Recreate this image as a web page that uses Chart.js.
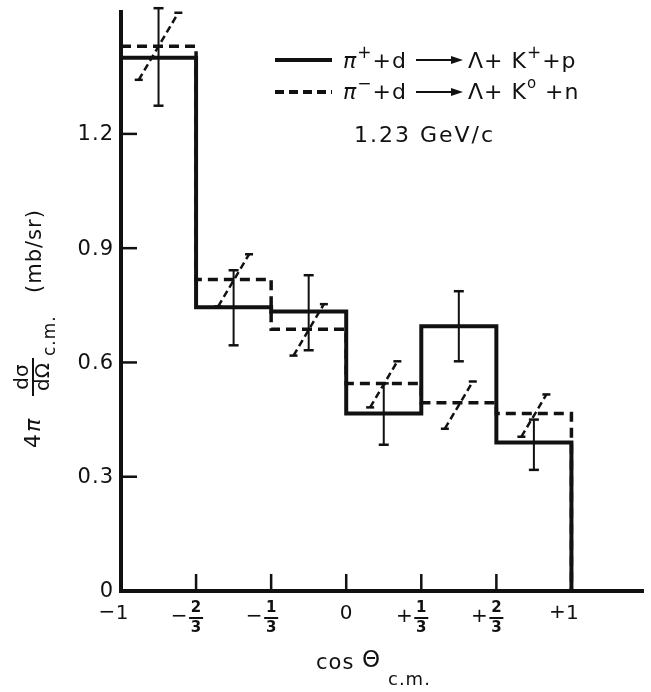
<!DOCTYPE html>
<html>
<head>
<meta charset="utf-8">
<script src="https://cdn.jsdelivr.net/npm/chart.js@4.4.0/dist/chart.umd.min.js"></script>
<style>
  body { margin: 0; background: #fff; }
  canvas { display: block; }
</style>
</head>
<body>
<canvas id="chart" width="651" height="692"></canvas>
<script>
// cos(theta) c.m. bins
const binEdges = [-1, -2/3, -1/3, 0, 1/3, 2/3, 1];
const binCenters = [-5/6, -1/2, -1/6, 1/6, 1/2, 5/6];

// pi+ + d -> Lambda + K+ + p  (solid)
const plusValues = [1.40, 0.745, 0.734, 0.466, 0.695, 0.39];
const plusLow = [1.274, 0.645, 0.632, 0.384, 0.603, 0.318];
const plusHigh = [1.53, 0.842, 0.829, 0.545, 0.787, 0.45];

// pi- + d -> Lambda + K0 + n  (dashed)
const minusValues = [1.43, 0.818, 0.687, 0.545, 0.494, 0.466];
const minusLow = [1.342, 0.747, 0.618, 0.482, 0.426, 0.405];
const minusHigh = [1.518, 0.884, 0.753, 0.603, 0.55, 0.516];

const yTicks = [0, 0.3, 0.6, 0.9, 1.2];
const yTickLabels = ['0', '0.3', '0.6', '0.9', '1.2'];
const xTicks = [-1, -2/3, -1/3, 0, 1/3, 2/3, 1];
// [sign, numerator, denominator]
const xTickLabels = [['-', '1'], ['-', '2', '3'], ['-', '1', '3'], ['', '0'], ['+', '1', '3'], ['+', '2', '3'], ['+', '1']];

const INK = '#111';

function stepPoints(values) {
  const pts = values.map((v, i) => ({ x: binEdges[i], y: v }));
  pts.push({ x: binEdges[binEdges.length - 1], y: values[values.length - 1] });
  pts.push({ x: binEdges[binEdges.length - 1], y: 0 });
  return pts;
}

function verticalBars(low, high) {
  const pts = [];
  binCenters.forEach((c, i) => {
    pts.push({ x: c, y: low[i] }, { x: c, y: high[i] }, { x: c, y: null });
  });
  return pts;
}

// the dashed series has its error bars drawn slanted
function slantBars(low, high) {
  const pts = [];
  binCenters.forEach((c, i) => {
    const d = (high[i] - low[i]) / 2;
    pts.push({ x: c - d, y: low[i] }, { x: c + d, y: high[i] }, { x: c, y: null });
  });
  return pts;
}

function drawRich(ctx, x, y, parts, size) {
  parts.forEach(p => {
    const [text, dy, scale, style] = p;
    ctx.font = (style || '') + ' ' + Math.round(size * scale) + 'px "DejaVu Sans"';
    ctx.fillText(text, x, y + dy);
    x += ctx.measureText(text).width;
  });
  return x;
}

function drawArrow(ctx, x1, x2, y) {
  ctx.beginPath();
  ctx.lineWidth = 2;
  ctx.moveTo(x1, y);
  ctx.lineTo(x2 - 8, y);
  ctx.stroke();
  ctx.beginPath();
  ctx.moveTo(x2, y);
  ctx.lineTo(x2 - 12, y - 4);
  ctx.lineTo(x2 - 12, y + 4);
  ctx.closePath();
  ctx.fill();
}

const decorations = {
  id: 'decorations',
  afterDraw(chart) {
    const ctx = chart.ctx;
    const xs = chart.scales.x, ys = chart.scales.y;
    const left = chart.chartArea.left, bottom = chart.chartArea.bottom;
    ctx.save();
    ctx.strokeStyle = INK;
    ctx.fillStyle = INK;
    ctx.lineCap = 'butt';

    // inward tick marks
    ctx.lineWidth = 2.5;
    yTicks.forEach(v => {
      if (v === 0) return;
      const py = ys.getPixelForValue(v);
      ctx.beginPath(); ctx.moveTo(left, py); ctx.lineTo(left + 16, py); ctx.stroke();
    });
    xTicks.forEach(v => {
      if (v === -1 || v === 1) return;
      const px = xs.getPixelForValue(v);
      ctx.beginPath(); ctx.moveTo(px, bottom); ctx.lineTo(px, bottom - 17); ctx.stroke();
    });

    // y tick labels
    ctx.letterSpacing = '1px';
    ctx.font = '21px "DejaVu Sans"';
    ctx.textAlign = 'right';
    ctx.textBaseline = 'middle';
    yTicks.forEach((v, i) => {
      ctx.fillText(yTickLabels[i], 114, ys.getPixelForValue(v) + 1);
    });

    // x tick labels (fractions stacked)
    ctx.letterSpacing = '0px';
    ctx.textAlign = 'center';
    xTicks.forEach((v, i) => {
      const px = xs.getPixelForValue(v);
      const [sign, num, den] = xTickLabels[i];
      if (den) {
        ctx.font = 'bold 15px "DejaVu Sans"';
        ctx.fillText(num, px, 608);
        ctx.fillText(den, px, 628);
        ctx.lineWidth = 2;
        ctx.beginPath(); ctx.moveTo(px - 7, 618); ctx.lineTo(px + 7, 618); ctx.stroke();
        ctx.font = '20px "DejaVu Sans"';
        ctx.fillText(sign === '-' ? '\u2212' : '+', px - 17, 617);
      } else {
        ctx.font = '20px "DejaVu Sans"';
        ctx.fillText(num, px + (sign ? 1 : 0), 614);
        if (sign) ctx.fillText(sign === '-' ? '\u2212' : '+', px - 14, 613);
      }
    });

    // x axis title
    ctx.textAlign = 'left';
    ctx.letterSpacing = '1px';
    ctx.font = '21px "DejaVu Sans"';
    ctx.fillText('cos', 316, 664);
    ctx.font = '23px "DejaVu Sans"';
    ctx.fillText('\u0398', 362, 661);
    ctx.font = '18px "DejaVu Sans"';
    ctx.fillText('c.m.', 388, 680);

    // y axis title (rotated)
    ctx.save();
    ctx.translate(33, 448);
    ctx.rotate(-Math.PI / 2);
    ctx.textBaseline = 'middle';
    ctx.textAlign = 'left';
    ctx.letterSpacing = '0px';
    ctx.font = '22px "DejaVu Sans"';
    ctx.fillText('4', 0, 1);
    ctx.font = 'italic 22px "DejaVu Sans"';
    ctx.fillText('\u03c0', 16, 1);
    ctx.font = '20px "DejaVu Sans"';
    ctx.textAlign = 'center';
    ctx.fillText('d\u03c3', 71, -10);
    ctx.fillText('d\u03a9', 71, 11);
    ctx.lineWidth = 2;
    ctx.beginPath(); ctx.moveTo(52, 0); ctx.lineTo(90, 0); ctx.stroke();
    ctx.textAlign = 'left';
    ctx.letterSpacing = '1px';
    ctx.font = '17px "DejaVu Sans"';
    ctx.fillText('c.m.', 92, 18);
    ctx.font = '21px "DejaVu Sans"';
    ctx.fillText('(mb/sr)', 155, 3);
    ctx.restore();

    // legend
    ctx.letterSpacing = '1px';
    ctx.textAlign = 'left';
    ctx.textBaseline = 'middle';
    ctx.lineWidth = 4;
    ctx.beginPath(); ctx.moveTo(275, 60); ctx.lineTo(332, 60); ctx.stroke();
    ctx.setLineDash([9, 5]);
    ctx.beginPath(); ctx.moveTo(275, 92); ctx.lineTo(332, 92); ctx.stroke();
    ctx.setLineDash([]);
    drawRich(ctx, 343, 62, [['\u03c0', 0, 1, 'italic'], ['+', -8, 0.75], ['+d', 0, 1]], 22);
    drawArrow(ctx, 416, 463, 60);
    drawRich(ctx, 468, 62, [['\u039b+ K', 0, 1], ['+', -8, 0.75], ['+p', 0, 1]], 22);
    drawRich(ctx, 343, 93, [['\u03c0', 0, 1, 'italic'], ['\u2212', -8, 0.75], ['+d', 0, 1]], 22);
    drawArrow(ctx, 416, 463, 92);
    drawRich(ctx, 468, 93, [['\u039b+ K', 0, 1], ['o', -9, 0.7], [' +n', 0, 1]], 22);

    ctx.letterSpacing = '2px';
    ctx.font = '22px "DejaVu Sans"';
    ctx.fillText('1.23 GeV/c', 354, 136);
    ctx.restore();
  }
};

const ctx = document.getElementById('chart').getContext('2d');
const chart = new Chart(ctx, {
  type: 'line',
  data: {
    datasets: [
      {
        label: 'pi+ d -> Lambda K+ p',
        data: stepPoints(plusValues),
        stepped: 'before',
        borderColor: INK,
        borderWidth: 4,
        pointRadius: 0,
        clip: false
      },
      {
        label: 'pi- d -> Lambda K0 n',
        data: stepPoints(minusValues),
        stepped: 'before',
        borderColor: INK,
        borderWidth: 3.5,
        borderDash: [10, 6],
        pointRadius: 0,
        clip: false
      },
      {
        label: 'pi+ errors',
        data: verticalBars(plusLow, plusHigh),
        borderColor: INK,
        borderWidth: 2,
        spanGaps: false,
        pointStyle: 'line',
        pointRadius: 5,
        pointBorderWidth: 2.5,
        pointBorderColor: INK,
        clip: false
      },
      {
        label: 'pi- errors',
        data: slantBars(minusLow, minusHigh),
        borderColor: INK,
        borderWidth: 2.5,
        borderDash: [7, 4],
        spanGaps: false,
        pointStyle: 'line',
        pointRadius: 4,
        pointBorderWidth: 2.5,
        pointBorderColor: INK,
        clip: false
      }
    ]
  },
  options: {
    responsive: false,
    animation: false,
    devicePixelRatio: 1,
    layout: { padding: { left: 121, top: 12, right: 1, bottom: 101 } },
    plugins: { legend: { display: false }, tooltip: { enabled: false } },
    scales: {
      x: {
        type: 'linear',
        min: -1,
        max: 1.32,
        grid: { display: false, drawTicks: false },
        ticks: { display: false },
        border: { color: INK, width: 4 }
      },
      y: {
        min: 0,
        max: 1.52,
        grid: { display: false, drawTicks: false },
        ticks: { display: false },
        border: { color: INK, width: 4 }
      }
    }
  },
  plugins: [decorations]
});
</script>
</body>
</html>
